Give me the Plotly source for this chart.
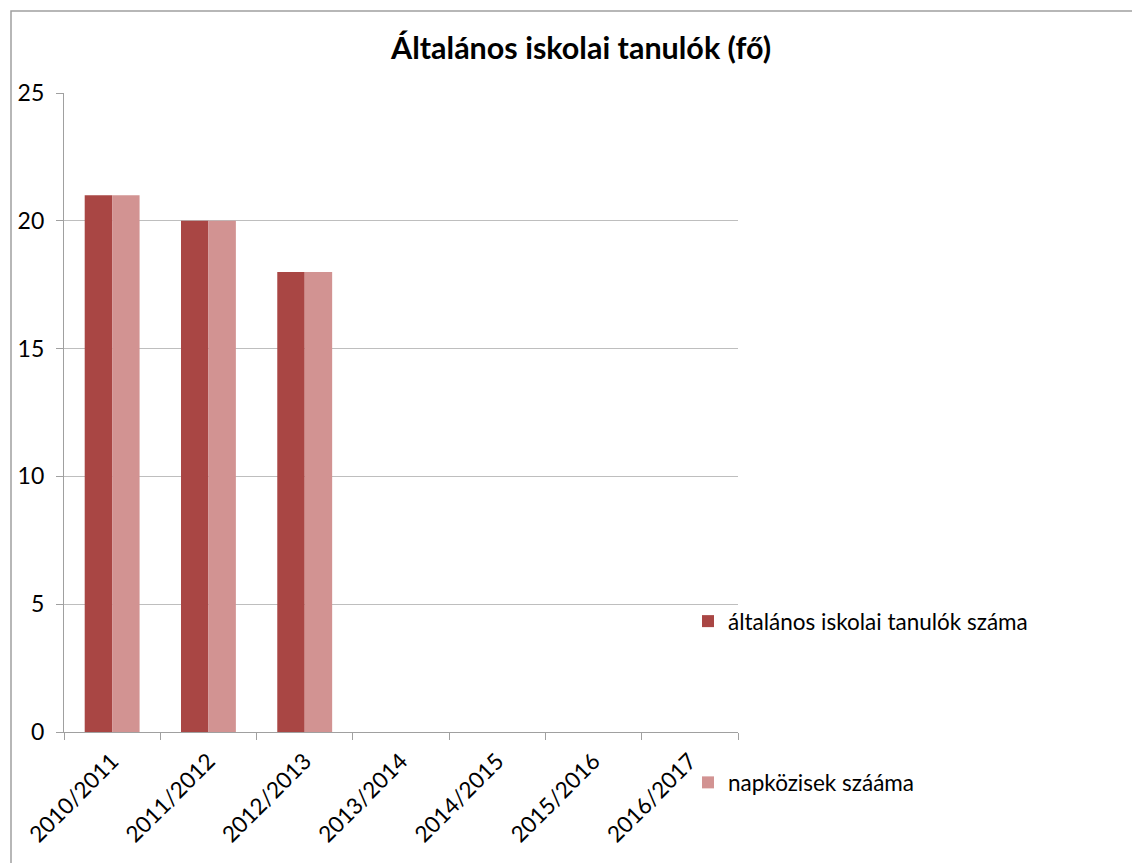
import plotly.graph_objects as go

categories = ["2010/2011", "2011/2012", "2012/2013", "2013/2014", "2014/2015", "2015/2016", "2016/2017"]
tanulok = [21, 20, 18, None, None, None, None]
napkozis = [21, 20, 18, None, None, None, None]
series_names = ["általános iskolai tanulók száma", "napközisek szááma"]
title_text = "Általános iskolai tanulók (fő)"
y_ticks = [0, 5, 10, 15, 20, 25]

OFF = 8  # page body margin
W, H = 1140 - OFF, 863 - OFF
L, R, T, B = 64, 738, 93, 732  # plot area in page pixels
pw, ph = R - L, B - T

def px_x(x):
    return (x - L) / pw

def px_y(y):
    return (B - y) / ph

FONT = "Lato"

fig = go.Figure()
fig.add_trace(go.Bar(x=categories, y=tanulok, name=series_names[0],
                     marker=dict(color="#A94644", line=dict(width=0)),
                     legendgroup="a"))
fig.add_trace(go.Bar(x=categories, y=napkozis, name=series_names[1],
                     marker=dict(color="#D29392", line=dict(width=0)),
                     legendgroup="b"))

fig.update_layout(
    width=W, height=H,
    margin=dict(l=L - OFF, r=W - (R - OFF), t=T - OFF, b=H - (B - OFF), autoexpand=False),
    paper_bgcolor="white", plot_bgcolor="white",
    barmode="group", bargap=0.43, bargroupgap=0,
    font=dict(family=FONT, color="black"),
    title=dict(text="<b>" + title_text + "</b>", x=(581 - OFF) / W, xanchor="center",
               y=1 - (48 - OFF) / H, yanchor="middle", yref="container",
               font=dict(family=FONT, size=30.5, color="black")),
    legend=dict(x=px_x(688), xanchor="left", y=px_y(600), yanchor="top",
                font=dict(family=FONT, size=22.5, color="black"),
                traceorder="grouped", tracegroupgap=129,
                bgcolor="rgba(0,0,0,0)", itemclick=False),
    showlegend=True,
)

fig.update_xaxes(type="category", categoryorder="array", categoryarray=categories,
                 showline=True, linecolor="#A0A0A0", linewidth=1.3,
                 ticks="outside", tickson="boundaries", ticklen=7, tickcolor="#A0A0A0",
                 tickangle=-45, ticklabelstandoff=6,
                 tickfont=dict(family=FONT, size=22.5, color="black"),
                 showgrid=False, zeroline=False, fixedrange=True)
fig.update_yaxes(range=[0, 25], tickvals=y_ticks, showline=True, linecolor="#A0A0A0",
                 linewidth=1.3, ticks="outside", ticklen=7, tickcolor="#A0A0A0",
                 ticklabelstandoff=7,
                 showgrid=True, gridcolor="#BEBEBE", gridwidth=1.3, zeroline=False,
                 tickfont=dict(family=FONT, size=23, color="black"), fixedrange=True)

# white patch hiding part of the y=5 gridline (where the legend box sits in the original)
fig.add_shape(type="line", xref="paper", yref="y", x0=px_x(634), x1=1.0, y0=5, y1=5,
              line=dict(color="white", width=3), layer="between")
# outer chart border
fig.add_shape(type="rect", xref="paper", yref="paper",
              x0=px_x(11), x1=px_x(1150), y0=px_y(11), y1=px_y(880),
              line=dict(color="#A0A0A0", width=1.5), fillcolor="rgba(0,0,0,0)", layer="above")

fig.write_html("out.html")
